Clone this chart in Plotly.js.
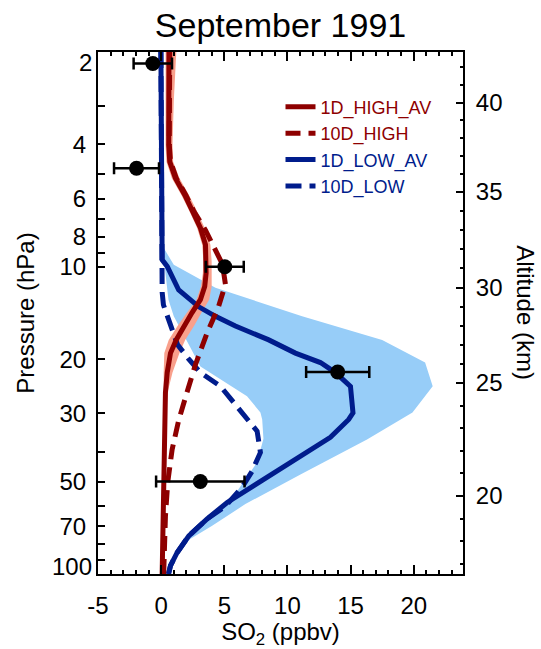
<!DOCTYPE html>
<html>
<head>
<meta charset="utf-8">
<script src="https://cdn.plot.ly/plotly-3.0.1.min.js"></script>
<style>html,body{margin:0;padding:0;background:#fff;}#chart{width:541px;height:649px;}</style>
</head>
<body>
<div id="chart"></div>
<script>
// ---- data (pressure in hPa, SO2 in ppbv) ----
const pHigh1D   = [2, 2.9, 4.0, 4.55, 5.15, 5.84, 6.61, 7.48, 8.48, 9.61, 10.5, 11.6, 12.8, 14.1, 15.6, 17.3, 19.1, 22.1, 25.7, 31.4, 50, 100];
const high1DAv  = [0.62, 0.58, 0.6, 0.68, 1.13, 1.87, 2.5, 3.11, 3.51, 3.59, 3.56, 3.45, 3.11, 2.45, 1.79, 1.19, 0.74, 0.48, 0.34, 0.29, 0.2, 0.08];
const high1DLo  = [0.35, 0.35, 0.35, 0.42, 0.85, 1.6, 2.25, 2.85, 3.25, 3.35, 3.3, 3.15, 2.8, 2.05, 1.3, 0.6, 0.25, 0.2, 0.2, 0.2, 0.1, 0.0];
const high1DHi  = [1.2, 1.0, 0.9, 0.95, 1.45, 2.2, 2.85, 3.45, 3.9, 4.0, 4.0, 4.0, 3.8, 3.2, 2.6, 1.9, 1.45, 0.9, 0.5, 0.4, 0.3, 0.15];

const pHigh10D  = [2, 2.9, 4.0, 4.55, 5.15, 5.84, 6.61, 7.6, 8.93, 9.8, 11.4, 13.5, 16.4, 20.8, 25.5, 31.6, 39.3, 50.3, 64.8, 94.3, 100];
const high10D   = [0.68, 0.64, 0.64, 0.74, 1.2, 1.95, 2.6, 3.51, 4.3, 4.85, 5.09, 4.54, 3.64, 2.72, 2.06, 1.39, 0.87, 0.52, 0.34, 0.21, 0.2];

const pLow1D    = [2, 4.17, 8.17, 9.5, 9.97, 11.9, 13.5, 14.5, 15.6, 17.3, 19.1, 20.5, 22.1, 24.5, 29.9, 31.4, 35.9, 41.3, 46.8, 53.0, 58.5, 66.2, 75.1, 85.1, 94.0, 100];
const low1DAv   = [-0.02, 0.02, 0.06, 0.08, 0.48, 1.39, 2.98, 4.3, 5.88, 8.52, 10.63, 12.61, 13.8, 14.99, 15.19, 14.85, 13.4, 11.03, 8.92, 6.81, 5.23, 3.64, 2.19, 1.27, 0.74, 0.58];

const pLow10D   = [2, 6.06, 9.5, 12.1, 13.3, 14.6, 17.9, 20.0, 22.1, 24.5, 27.7, 30.9, 34.3, 40.2, 46.3, 52.2, 60.2, 66.2, 75.1, 85.1, 94.0, 100];
const low10D    = [-0.02, 0.02, 0.02, 0.08, 0.18, 0.5, 1.29, 2.19, 3.11, 4.7, 5.75, 6.67, 7.6, 7.86, 7.2, 6.41, 5.09, 3.64, 2.19, 1.27, 0.74, 0.58];

// range envelope of the LOW runs: right edge (top -> bottom), left edge (bottom -> top)
const lowRangeRightP = [8.55, 9.85, 11.7, 14.5, 17.3, 20.5, 24.5, 29.8, 36.5, 47.4, 59.2, 69.7, 77, 84.3];
const lowRangeRightX = [0.1, 1.0, 4.3, 11.16, 17.5, 20.9, 21.5, 19.9, 16.3, 11.03, 6.67, 4.04, 2.3, 1.37];
const lowRangeLeftP  = [75.3, 64.7, 55.7, 43.3, 36.3, 31.4, 29.8, 26.4, 21.1, 14.5, 12.8, 10.5, 8.76];
const lowRangeLeftX  = [2.32, 3.9, 5.75, 7.6, 8.1, 8.0, 7.86, 6.8, 3.11, 1.0, 0.58, 0.34, 0.18];

// observations with uncertainty
const obsP   = [2.18, 4.78, 10.0, 22.0, 50.0];
const obsX   = [-0.66, -1.95, 5.04, 13.98, 3.1];
const obsErr = [1.52, 1.78, 1.5, 2.5, 3.5];

// axes
const xTicks      = [-5, 0, 5, 10, 15, 20];
const xTickText   = ['-5', '0', '5', '10', '15', '20'];
const pTickVals   = [2, 3, 4, 5, 6, 7, 8, 9, 10, 20, 30, 40, 50, 60, 70, 80, 90, 100];
const pTickText   = ['', '', '4', '', '6', '', '8', '', '10', '20', '30', '', '50', '', '70', '', '', ''];
const pEndLabels  = [2, 100];           // end labels, drawn just inside the axis ends
const altKm       = [20, 25, 30, 35, 40];
const altP        = [55.7, 23.9, 11.7, 5.69, 2.92];
const altMinorKm  = [17, 18, 19, 21, 22, 23, 24, 26, 27, 28, 29, 31, 32, 33, 34, 36, 37, 38, 39, 41, 42];

const names  = ['1D_HIGH_AV', '10D_HIGH', '1D_LOW_AV', '10D_LOW'];
const RED = '#8E0000', BLUE = '#001C8C', PINK = '#F9A08C', LBLUE = '#97CDF8';

// altitude -> pressure for minor ticks (log-linear between labelled altitudes)
function kmToP(km) {
  let i = 0;
  while (i < altKm.length - 2 && km > altKm[i + 1]) i++;
  const t = (km - altKm[i]) / (altKm[i + 1] - altKm[i]);
  const lp = Math.log10(altP[i]) + t * (Math.log10(altP[i + 1]) - Math.log10(altP[i]));
  return Math.pow(10, lp);
}
const altMinorP = altMinorKm.map(kmToP);

const FONT = 'Liberation Sans, Arial, Helvetica, sans-serif';

const traces = [
  { x: lowRangeRightX.concat(lowRangeLeftX), y: lowRangeRightP.concat(lowRangeLeftP),
    fill: 'toself', fillcolor: LBLUE, mode: 'none', type: 'scatter', showlegend: false, hoverinfo: 'skip' },
  { x: high1DHi.concat(high1DLo.slice().reverse()), y: pHigh1D.concat(pHigh1D.slice().reverse()),
    fill: 'toself', fillcolor: PINK, mode: 'none', type: 'scatter', showlegend: false, hoverinfo: 'skip' },
  { x: low10D, y: pLow10D, mode: 'lines', name: `<span style="color:${BLUE}">${names[3]}</span>`,
    line: { color: BLUE, width: 5, dash: '16px,8px' }, legendrank: 4 },
  { x: low1DAv, y: pLow1D, mode: 'lines', name: `<span style="color:${BLUE}">${names[2]}</span>`,
    line: { color: BLUE, width: 5 }, legendrank: 3 },
  { x: high10D, y: pHigh10D, mode: 'lines', name: `<span style="color:${RED}">${names[1]}</span>`,
    line: { color: RED, width: 5, dash: '15px,8px' }, legendrank: 2 },
  { x: high1DAv, y: pHigh1D, mode: 'lines', name: `<span style="color:${RED}">${names[0]}</span>`,
    line: { color: RED, width: 5 }, legendrank: 1 },
  { x: obsX, y: obsP, mode: 'markers', type: 'scatter', showlegend: false,
    marker: { color: 'black', size: 15 },
    error_x: { type: 'data', array: obsErr, color: 'black', thickness: 2.5, width: 6 } },
  { x: [null], y: [null], yaxis: 'y2', mode: 'markers', showlegend: false, hoverinfo: 'skip' }
];

const endAnn = pEndLabels.map((p, i) => ({
  text: String(p), xref: 'paper', yref: 'y', x: 0, y: Math.log10(p),
  xanchor: 'right', yanchor: 'middle', xshift: -4, yshift: i === 0 ? -10 : 8,
  showarrow: false, font: { family: FONT, size: 24, color: '#000' }
}));

const layout = {
  width: 541, height: 649,
  margin: { l: 98, r: 78, t: 52, b: 75 },
  paper_bgcolor: '#fff', plot_bgcolor: 'rgba(0,0,0,0)',
  font: { family: FONT, size: 24, color: '#000' },
  title: { text: 'September 1991', font: { family: FONT, size: 34, color: '#000' },
           x: 0.5, xref: 'paper', xanchor: 'center', y: 0.962, yref: 'container', yanchor: 'middle' },
  showlegend: true,
  legend: { x: 0.5, xanchor: 'left', y: 0.93, yanchor: 'top', bgcolor: 'rgba(0,0,0,0)',
            font: { family: FONT, size: 18 }, traceorder: 'normal', itemwidth: 30 },
  xaxis: {
    range: [-5, 23.9], tickmode: 'array', tickvals: xTicks, ticktext: xTickText, ticks: 'inside', ticklen: 9, tickwidth: 2,
    tickcolor: '#000', showline: true, linewidth: 2, linecolor: '#000', mirror: 'ticks',
    zeroline: false, showgrid: false, ticklabelstandoff: 9, tickfont: { size: 24 },
    minor: { dtick: 1, ticks: 'inside', ticklen: 4, tickwidth: 2, tickcolor: '#000', showgrid: false },
    title: { text: 'SO<sub>2</sub> (ppbv)', font: { family: FONT, size: 24 }, standoff: 6 }
  },
  yaxis: {
    type: 'log', range: [2, Math.log10(2)], tickmode: 'array', tickvals: pTickVals, ticktext: pTickText,
    ticks: 'inside', ticklen: 7, tickwidth: 2, tickcolor: '#000', showline: true, linewidth: 2,
    linecolor: '#000', showgrid: false, zeroline: false, ticklabelstandoff: 5, tickfont: { size: 24 },
    title: { text: 'Pressure (hPa)', font: { family: FONT, size: 24 }, standoff: 18 }
  },
  yaxis2: {
    type: 'log', range: [2, Math.log10(2)], overlaying: 'y', side: 'right',
    tickmode: 'array', tickvals: altP, ticktext: altKm.map(String),
    ticks: 'inside', ticklen: 7, tickwidth: 2, tickcolor: '#000', showline: true, linewidth: 2,
    linecolor: '#000', showgrid: false, zeroline: false, ticklabelstandoff: 6, tickfont: { size: 24 },
    minor: { tickmode: 'array', tickvals: altMinorP, ticks: 'inside', ticklen: 3.5, tickwidth: 2, tickcolor: '#000', showgrid: false }
  },
  annotations: [
    { text: 'Altitude (km)', textangle: 90, xref: 'paper', yref: 'paper', x: 1.172, y: 0.5,
      xanchor: 'center', yanchor: 'middle', showarrow: false, font: { family: FONT, size: 24, color: '#000' } }
  ].concat(endAnn)
};

Plotly.newPlot('chart', traces, layout, { displayModeBar: false, staticPlot: true });
</script>
</body>
</html>
